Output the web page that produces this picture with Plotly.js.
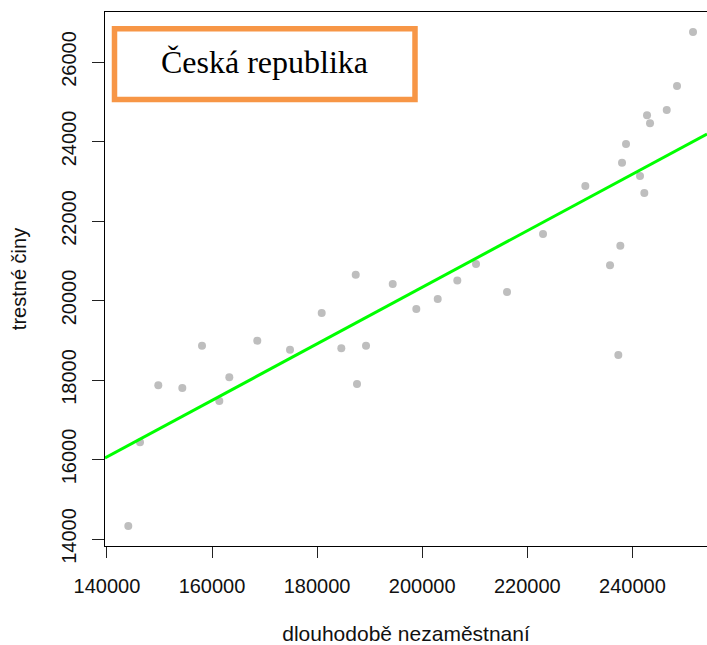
<!DOCTYPE html>
<html>
<head>
<meta charset="utf-8">
<script src="https://cdn.plot.ly/plotly-3.0.1.min.js"></script>
<style>
html,body{margin:0;padding:0;background:#fff;}
#chart{width:707px;height:645px;}
</style>
</head>
<body>
<div id="chart"></div>
<script>
// Data
var unemployed = [144072,146299,149781,154349,158098,161390,163293,168621,174844,180876,
  184606,187594,189307,194388,187347,198879,202951,206681,210240,216139,
  222990,231040,235740,237319,237700,238024,238785,241449,242267,242781,
  243352,246530,248490,251535];
var crimes = [14327,16433,17867,17799,18863,17472,18068,18989,18763,19686,
  18798,17900,18863,20416,20650,19787,20038,20504,20919,20215,
  21674,22881,20886,18629,21379,23468,23938,23133,22705,24660,
  24459,24794,25397,26756];
var xTicks = [140000,160000,180000,200000,220000,240000];
var xTickLabels = ["140000","160000","180000","200000","220000","240000"];
var yTicks = [14000,16000,18000,20000,22000,24000,26000];
var yTickLabels = ["14000","16000","18000","20000","22000","24000","26000"];
var panelTitle = "Česká republika";
var xTitle = "dlouhodobě nezaměstnaní";
var yTitle = "trestné činy";

// Least-squares fit (lm(y ~ x))
var n = unemployed.length, mx = 0, my = 0;
for (var i = 0; i < n; i++) { mx += unemployed[i]; my += crimes[i]; }
mx /= n; my /= n;
var sxy = 0, sxx = 0;
for (var i = 0; i < n; i++) {
  sxy += (unemployed[i] - mx) * (crimes[i] - my);
  sxx += (unemployed[i] - mx) * (unemployed[i] - mx);
}
var slope = sxy / sxx, intercept = my - slope * mx;

var xRange = [139638, 254193];
var yRange = [13824, 27258];
var lineX = xRange.slice();
var lineY = lineX.map(function(v){ return intercept + slope * v; });

var font = "Liberation Sans, Arial, Helvetica, sans-serif";

var traces = [
  {
    type: "scatter", mode: "markers",
    x: unemployed, y: crimes,
    marker: {color: "#bebebe", size: 8, line: {width: 0}},
    hoverinfo: "x+y", showlegend: false
  },
  {
    type: "scatter", mode: "lines",
    x: lineX, y: lineY,
    line: {color: "#00ff00", width: 3},
    hoverinfo: "skip", showlegend: false
  }
];

var layout = {
  width: 707, height: 645,
  margin: {l: 105, r: 0, t: 12, b: 99, pad: 0},
  paper_bgcolor: "#ffffff", plot_bgcolor: "#ffffff",
  showlegend: false,
  font: {family: font, color: "#000000", size: 20},
  xaxis: {
    range: xRange, autorange: false,
    tickmode: "array", tickvals: xTicks, ticktext: xTickLabels,
    ticks: "outside", ticklen: 11, tickwidth: 1, tickcolor: "#222",
    showline: true, linecolor: "#000", linewidth: 1, mirror: true,
    showgrid: false, zeroline: false,
    tickfont: {family: font, size: 20, color: "#111"},
    ticklabelstandoff: 11,
    title: {text: xTitle, font: {family: font, size: 21, color: "#111"}, standoff: 34},
    automargin: false
  },
  yaxis: {
    range: yRange, autorange: false,
    tickmode: "array", tickvals: yTicks, ticktext: yTickLabels,
    ticks: "outside", ticklen: 12, tickwidth: 1, tickcolor: "#222",
    tickangle: -90,
    showline: true, linecolor: "#000", linewidth: 1, mirror: false,
    showgrid: false, zeroline: false,
    tickfont: {family: font, size: 20, color: "#111"},
    ticklabelstandoff: 8,
    title: {text: yTitle, font: {family: font, size: 20, color: "#111"}, standoff: 26},
    automargin: false
  },
  shapes: [
    {
      type: "rect", xref: "paper", yref: "paper",
      x0: (114.5-105)/602, x1: (415-105)/602,
      y0: (546-99.5)/534, y1: (546-28.8)/534,
      line: {color: "#f79646", width: 5.5},
      fillcolor: "#ffffff", layer: "above"
    }
  ],
  annotations: [
    {
      text: panelTitle, xref: "paper", yref: "paper",
      x: (264.5-105)/602, y: (546-62)/534,
      xanchor: "center", yanchor: "middle", showarrow: false,
      font: {family: "Liberation Serif, Times New Roman, serif", size: 32, color: "#000"}
    }
  ]
};

Plotly.newPlot("chart", traces, layout, {displayModeBar: false, staticPlot: true});
</script>
</body>
</html>
